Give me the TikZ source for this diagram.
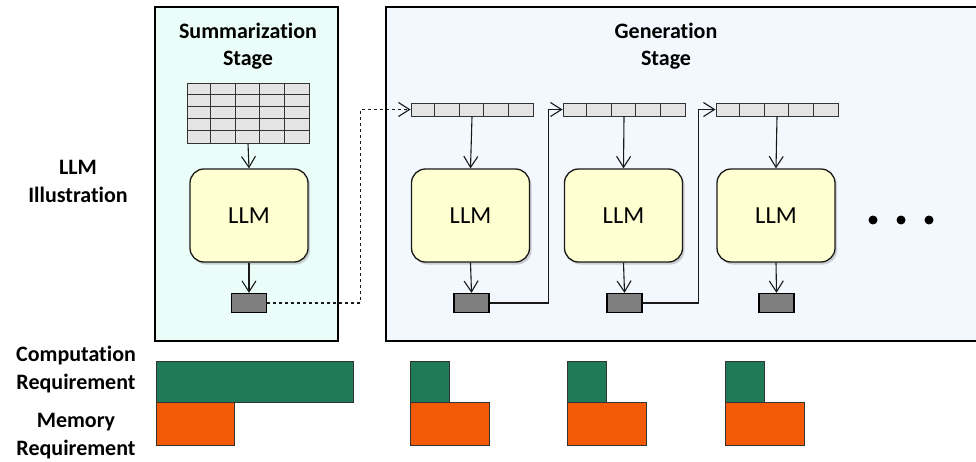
\documentclass[tikz,border=0pt]{standalone}
\usepackage{fontspec}
\setmainfont{Carlito}[Ligatures=NoCommon]
\usetikzlibrary{arrows.meta,shadows}
\definecolor{sumfill}{HTML}{EAFDF8}
\definecolor{genfill}{HTML}{F2F8FD}
\definecolor{llmfill}{HTML}{FFFFD2}
\definecolor{tokfill}{HTML}{E4E4E4}
\definecolor{outfill}{HTML}{7F7F7F}
\definecolor{compgreen}{HTML}{1F7A57}
\definecolor{memorange}{HTML}{F25A05}
\tikzset{
  stagebox/.style={draw=black, line width=1.5pt},
  title/.style={font=\bfseries\fontsize{22}{27}\selectfont, align=center},
  rowlabel/.style={font=\bfseries\fontsize{22}{28}\selectfont, align=center},
  llmbox/.style={draw=black!90, line width=1.3pt, fill=llmfill, rounded corners=14pt,
    minimum width=118pt, minimum height=93pt, font=\fontsize{24.5}{28}\selectfont,
    drop shadow={shadow xshift=2pt, shadow yshift=-2.5pt, opacity=0.35}},
  tokrow/.style={draw=black!80, line width=1pt, fill=tokfill, minimum width=122pt, minimum height=13pt, inner sep=0pt},
  grid/.style={draw=black!80, line width=1pt, fill=tokfill, minimum width=122pt, minimum height=60pt, inner sep=0pt},
  gridline/.style={draw=black!80, line width=1pt},
  outbox/.style={draw=black, line width=1.3pt, fill=outfill, minimum width=35pt, minimum height=19pt, inner sep=0pt},
  flow/.style={draw=black!90, line width=1.1pt, -{Straight Barb[length=11pt,width=14pt,line width=1.1pt]}},
  compbar/.style={draw=black!80, line width=0.9pt, fill=compgreen, anchor=north west, inner sep=0pt, minimum height=41pt},
  membar/.style={draw=black!80, line width=0.9pt, fill=memorange, anchor=north west, inner sep=0pt, minimum height=43pt},
  dotmark/.style={circle, fill=black, inner sep=0pt, minimum size=9pt}
}
\begin{document}
\begin{tikzpicture}[x=1pt,y=-1pt]
\clip (0,0) rectangle (976,461);
\fill[white] (0,0) rectangle (976,461);

% stage boxes
\draw[stagebox, fill=sumfill] (155,7) rectangle (338,341);
\draw[stagebox, fill=genfill] (386,7) rectangle (995,341);

\node[title] (sumtitle) at (248,46) {Summarization\\Stage};
\node[title] (gentitle) at (666,46) {Generation\\Stage};

% row labels
\node[rowlabel] (lblllm) at (78,181) {LLM\\Illustration};
\node[rowlabel] (lblcomp) at (76,370) {Computation\\Requirement};
\node[rowlabel] (lblmem) at (76,436) {Memory\\Requirement};

% summarization stage
\node[grid] (grid) at (248,113) {};
\foreach \i in {1,...,4} {
  \draw[gridline] (grid.north west) ++(\i*24.4,0) -- ++(0,60);
  \draw[gridline] (grid.north west) ++(0,\i*12) -- ++(122,0);
}
\node[llmbox] (L0) at (249,215.5) {LLM};
\node[outbox] (o0) at (249,303) {};
\draw[flow] (grid.south) -- (L0.north);
\draw[flow] (L0.south) -- (o0.north);

% generation stage
\foreach \n/\tx/\lx/\ox in {1/472/470.5/471.5, 2/624/623.5/624.5, 3/777/776/776.5} {
  \node[tokrow] (t\n) at (\tx,109.5) {};
  \foreach \i in {1,...,4}
    \draw[gridline] (t\n.north west) ++(\i*24.4,0) -- ++(0,13);
  \node[llmbox] (L\n) at (\lx,215.5) {LLM};
  \node[outbox] (o\n) at (\ox,303) {};
  \draw[flow] (t\n.south) -- (L\n.north);
  \draw[flow] (L\n.south) -- (o\n.north);
}

\draw[flow, dashed] (o0.east) -- ++(93,0) |- (t1.west);
\draw[flow] (o1.east) -- ++(59,0) |- (t2.west);
\draw[flow] (o2.east) -- ++(56,0) |- (t3.west);

\node[dotmark] (d1) at (873,220) {};
\node[dotmark] (d2) at (901,220) {};
\node[dotmark] (d3) at (929,220) {};

% requirement bars
\node[compbar, minimum width=197pt] (c0) at (156,361) {};
\node[membar, minimum width=78pt] (m0) at (156,402) {};
\foreach \n/\bx in {1/410, 2/567, 3/725} {
  \node[compbar, minimum width=39pt] (c\n) at (\bx,361) {};
  \node[membar, minimum width=79pt] (m\n) at (\bx,402) {};
}
\end{tikzpicture}
\end{document}
